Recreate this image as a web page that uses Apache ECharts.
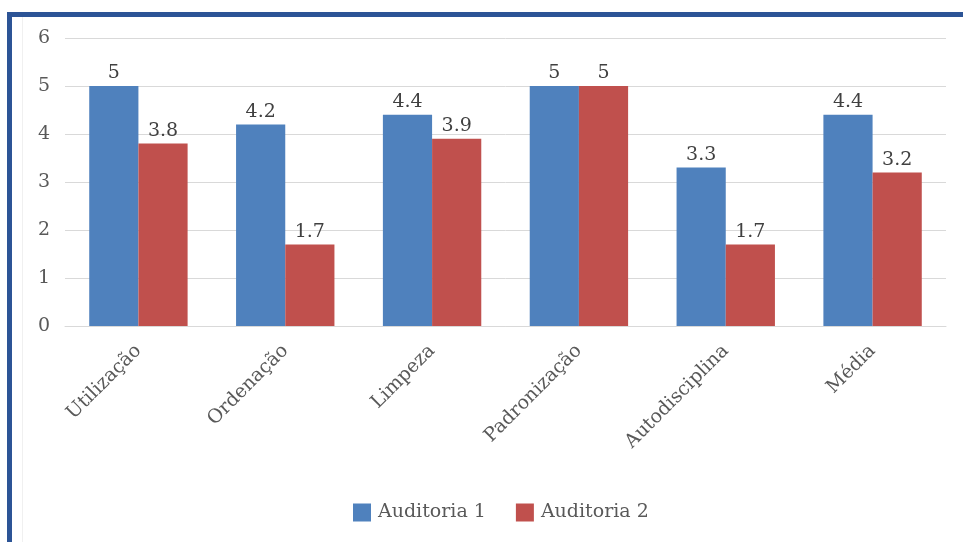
<!DOCTYPE html>
<html>
<head>
<meta charset="utf-8">
<script src="https://cdn.jsdelivr.net/npm/echarts@6/dist/echarts.min.js"></script>
<style>
  html, body { margin: 0; padding: 0; background: #ffffff; }
  #chart { width: 963px; height: 542px; }
</style>
</head>
<body>
<div id="chart"></div>
<script>
// Audit scores per 5S sense
const categories = ['Utilização', 'Ordenação', 'Limpeza', 'Padronização', 'Autodisciplina', 'Média'];
const auditoria1 = [5, 4.2, 4.4, 5, 3.3, 4.4];
const auditoria2 = [3.8, 1.7, 3.9, 5, 1.7, 3.2];
const yTicks = { min: 0, max: 6, interval: 1 };

const FONT = '"DejaVu Serif", "Liberation Serif", serif';
const TEXT = '#595959';

const chart = echarts.init(document.getElementById('chart'), null, { renderer: 'canvas' });

const labelStyle = {
  show: true,
  position: 'top',
  distance: 3,
  color: '#404040',
  fontFamily: FONT,
  fontSize: 19
};

chart.setOption({
  backgroundColor: '#ffffff',
  animation: false,
  graphic: [
    // frame: left and top edges
    { type: 'rect', shape: { x: 7, y: 12, width: 5, height: 540 }, style: { fill: '#2c5496' } },
    { type: 'rect', shape: { x: 7, y: 12, width: 956, height: 5 }, style: { fill: '#2c5496' } },
    { type: 'rect', shape: { x: 22, y: 17, width: 1, height: 525 }, style: { fill: '#f0f0f0' } }
  ],
  grid: { left: 65, right: 17, top: 38, bottom: 216, containLabel: false },
  legend: {
    data: ['Auditoria 1', 'Auditoria 2'],
    left: 348,
    top: 498,
    itemWidth: 18,
    itemHeight: 18,
    itemGap: 30,
    icon: 'rect',
    textStyle: { color: TEXT, fontFamily: FONT, fontSize: 19, padding: [0, 0, 0, 2] }
  },
  xAxis: {
    type: 'category',
    data: categories,
    axisLine: { show: true, lineStyle: { color: '#d9d9d9', width: 1 } },
    axisTick: { show: false },
    axisLabel: {
      rotate: 45,
      interval: 0,
      margin: 22,
      color: TEXT,
      fontFamily: FONT,
      fontSize: 19
    }
  },
  yAxis: {
    type: 'value',
    min: yTicks.min,
    max: yTicks.max,
    interval: yTicks.interval,
    axisLine: { show: false },
    axisTick: { show: false },
    splitLine: { lineStyle: { color: '#d9d9d9', width: 1 } },
    axisLabel: { color: TEXT, fontFamily: FONT, fontSize: 19, margin: 15 }
  },
  series: [
    {
      name: 'Auditoria 1',
      type: 'bar',
      data: auditoria1,
      barGap: '0%',
      barCategoryGap: '33%',
      itemStyle: { color: '#4f81bd' },
      label: labelStyle
    },
    {
      name: 'Auditoria 2',
      type: 'bar',
      data: auditoria2,
      barGap: '0%',
      barCategoryGap: '33%',
      itemStyle: { color: '#c0504d' },
      label: labelStyle
    }
  ]
});
</script>
</body>
</html>
